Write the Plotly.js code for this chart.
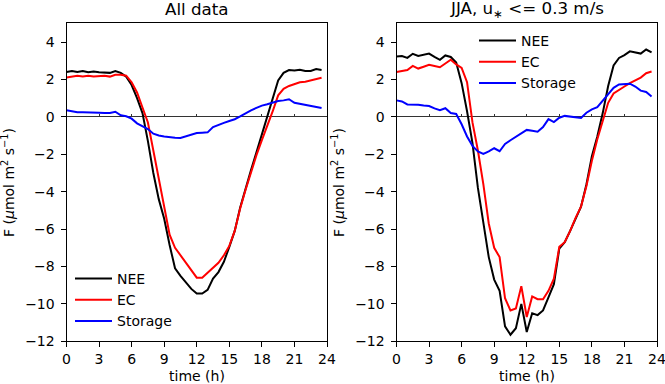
<!DOCTYPE html>
<html>
<head>
<meta charset="utf-8">
<script src="https://cdn.plot.ly/plotly-3.0.1.min.js"></script>
<style>
  html, body { margin: 0; padding: 0; background: #fff; }
  #chart { width: 665px; height: 384px; }
</style>
</head>
<body>
<div id="chart"></div>
<script>
// half-hourly time of day (h)
const hours = [0, 0.5, 1, 1.5, 2, 2.5, 3, 3.5, 4, 4.5, 5, 5.5, 6, 6.5, 7, 7.5,
    8, 8.5, 9, 9.5, 10, 10.5, 11, 11.5, 12, 12.5, 13, 13.5, 14, 14.5, 15, 15.5,
    16, 16.5, 17, 17.5, 18, 18.5, 19, 19.5, 20, 20.5, 21, 21.5, 22, 22.5, 23, 23.5];

// All data
const allNEE = [2.40, 2.45, 2.40, 2.45, 2.38, 2.42, 2.38, 2.38, 2.35, 2.45, 2.35, 2.15,
    1.70, 1.00, 0.20, -1.30, -3.00, -4.40, -5.45, -6.85, -8.10, -8.50, -8.85, -9.20,
    -9.45, -9.45, -9.25, -8.65, -8.30, -7.75, -6.95, -6.10, -4.85, -3.80, -2.85, -1.90,
    -0.95, 0.00, 0.95, 1.95, 2.35, 2.50, 2.48, 2.52, 2.45, 2.45, 2.55, 2.50];
const allEC = [2.10, 2.15, 2.20, 2.15, 2.20, 2.15, 2.18, 2.20, 2.15, 2.25, 2.25, 2.20,
    1.85, 1.30, 0.50, -0.30, -1.80, -3.25, -4.75, -6.30, -7.00, -7.40, -7.80, -8.20,
    -8.60, -8.60, -8.35, -8.10, -7.80, -7.40, -6.90, -6.10, -4.90, -3.90, -2.95, -2.05,
    -1.25, -0.50, 0.30, 1.15, 1.50, 1.65, 1.75, 1.85, 1.88, 1.95, 2.02, 2.09];
const allStorage = [0.35, 0.30, 0.25, 0.25, 0.25, 0.25, 0.22, 0.20, 0.20, 0.27, 0.08, 0.03,
    -0.10, -0.35, -0.50, -0.65, -0.90, -1.00, -1.05, -1.10, -1.12, -1.13, -1.05, -0.95,
    -0.87, -0.85, -0.83, -0.55, -0.42, -0.32, -0.22, -0.13, 0.02, 0.20, 0.35, 0.48,
    0.60, 0.67, 0.75, 0.85, 0.88, 0.94, 0.75, 0.70, 0.65, 0.60, 0.55, 0.47];

// JJA, u* <= 0.3 m/s
const jjaNEE = [3.23, 3.25, 3.15, 3.37, 3.25, 3.30, 3.38, 3.20, 3.05, 3.28, 3.20, 2.90,
    1.80, 0.30, -1.40, -3.80, -5.75, -7.50, -8.70, -9.30, -11.20, -11.65, -11.30, -10.00,
    -11.50, -10.50, -10.60, -10.35, -9.65, -8.95, -7.05, -6.70, -6.10, -5.40, -4.80, -3.60,
    -2.10, -1.05, 0.20, 1.65, 2.75, 3.15, 3.30, 3.50, 3.45, 3.38, 3.60, 3.45];
const jjaEC = [2.40, 2.45, 2.50, 2.72, 2.58, 2.68, 2.78, 2.72, 2.65, 2.85, 3.05, 2.80,
    2.62, 1.85, -0.30, -1.80, -3.60, -5.70, -7.00, -7.50, -9.70, -10.35, -10.25, -9.05,
    -10.70, -9.60, -9.75, -9.75, -9.30, -8.65, -6.95, -6.70, -6.10, -5.40, -4.80, -3.70,
    -2.35, -1.20, -0.20, 0.75, 1.25, 1.45, 1.62, 1.80, 1.97, 2.10, 2.33, 2.42];
const jjaStorage = [0.88, 0.82, 0.66, 0.66, 0.65, 0.61, 0.58, 0.45, 0.36, 0.46, 0.20, 0.15,
    -0.40, -1.05, -1.55, -1.85, -1.98, -1.85, -1.68, -1.84, -1.45, -1.25, -1.08, -0.90,
    -0.70, -0.75, -0.80, -0.55, -0.12, -0.28, -0.05, 0.05, 0.02, -0.02, -0.06, 0.22,
    0.40, 0.52, 0.85, 1.20, 1.55, 1.73, 1.77, 1.77, 1.62, 1.40, 1.33, 1.09];

const seriesNames = ['NEE', 'EC', 'Storage'];
const seriesColors = ['#000000', '#ff0000', '#0000ff'];
const panelTitles = ['All data', 'JJA, u<sub>∗</sub> &lt;= 0.3 m/s'];
const xTicks = [0, 3, 6, 9, 12, 15, 18, 21, 24];
const yTicks = [-12, -10, -8, -6, -4, -2, 0, 2, 4];

const FONT = 'DejaVu Sans, sans-serif';
const W = 665, H = 384;

// axes boxes in pixels
const boxLeft = [66.5, 396.5];
const boxWidth = 260.5;
const boxTop = 23.3, boxBottom = 341.3;

function px2x(p) { return p / W; }
function px2y(p) { return 1 - p / H; }

const panels = [
    [allNEE, allEC, allStorage],
    [jjaNEE, jjaEC, jjaStorage]
];

const traces = [];
panels.forEach((panel, i) => {
    const ax = i === 0 ? '' : '2';
    panel.forEach((vals, k) => {
        traces.push({
            x: hours,
            y: vals,
            type: 'scatter',
            mode: 'lines',
            name: seriesNames[k],
            line: { color: seriesColors[k], width: 2 },
            xaxis: 'x' + ax,
            yaxis: 'y' + ax,
            legend: i === 0 ? 'legend' : 'legend2'
        });
    });
});

function xAxis(i) {
    return {
        domain: [px2x(boxLeft[i]), px2x(boxLeft[i] + boxWidth)],
        range: [0, 24],
        tickvals: xTicks,
        ticks: 'outside',
        ticklen: 5,
        tickwidth: 1,
        tickcolor: '#000',
        showline: true,
        linecolor: '#000',
        linewidth: 1,
        mirror: true,
        showgrid: false,
        zeroline: false,
        ticklabeloverflow: 'allow',
        tickfont: { family: FONT, size: 14, color: '#000' },
        anchor: i === 0 ? 'y' : 'y2',
        fixedrange: true
    };
}

function yAxis(i) {
    return {
        domain: [px2y(boxBottom), px2y(boxTop)],
        range: [-12, 5],
        tickvals: yTicks,
        ticks: 'outside',
        ticklen: 5,
        tickwidth: 1,
        tickcolor: '#000',
        showline: true,
        linecolor: '#000',
        linewidth: 1,
        mirror: true,
        showgrid: false,
        zeroline: true,
        zerolinecolor: '#333',
        zerolinewidth: 1,
        ticklabelstandoff: 3,
        tickfont: { family: FONT, size: 14, color: '#000' },
        anchor: i === 0 ? 'x' : 'x2',
        fixedrange: true
    };
}

// small upward ticks sitting on the zero line
function zeroTickAxis(i) {
    return {
        domain: [px2x(boxLeft[i]), px2x(boxLeft[i] + boxWidth)],
        range: [0, 24],
        tickvals: xTicks,
        ticks: 'inside',
        ticklen: 3,
        tickwidth: 1,
        tickcolor: '#333',
        showticklabels: false,
        showline: false,
        showgrid: false,
        zeroline: false,
        overlaying: i === 0 ? 'x' : 'x2',
        anchor: 'free',
        position: px2y(boxTop + 5 * (boxBottom - boxTop) / 17),
        fixedrange: true
    };
}

const annotations = [];
[0, 1].forEach(i => {
    const cx = boxLeft[i] + boxWidth / 2;
    annotations.push({
        text: panelTitles[i], xref: 'paper', yref: 'paper',
        x: px2x(cx), y: px2y(9), xanchor: 'center', yanchor: 'middle',
        showarrow: false, font: { family: FONT, size: 16.7, color: '#000' }
    });
    annotations.push({
        text: 'time (h)', xref: 'paper', yref: 'paper',
        x: px2x(cx), y: px2y(376), xanchor: 'center', yanchor: 'middle',
        showarrow: false, font: { family: FONT, size: 14, color: '#000' }
    });
    annotations.push({
        text: 'F (<i>μ</i>mol m<sup>2</sup> s<sup>−1</sup>)', xref: 'paper', yref: 'paper',
        x: px2x(i === 0 ? 8 : 338), y: px2y(183), xanchor: 'center', yanchor: 'middle',
        textangle: -90, showarrow: false, font: { family: FONT, size: 14, color: '#000' }
    });
});

const legendBase = {
    bgcolor: 'rgba(0,0,0,0)',
    borderwidth: 0,
    font: { family: FONT, size: 14, color: '#000' },
    xanchor: 'left',
    yanchor: 'top',
    itemwidth: 37,
    tracegroupgap: 0
};

const layout = {
    width: W,
    height: H,
    margin: { l: 0, r: 0, t: 0, b: 0 },
    paper_bgcolor: '#fff',
    plot_bgcolor: '#fff',
    showlegend: true,
    xaxis: xAxis(0),
    yaxis: yAxis(0),
    xaxis2: xAxis(1),
    yaxis2: yAxis(1),
    xaxis3: zeroTickAxis(0),
    xaxis4: zeroTickAxis(1),
    legend: Object.assign({}, legendBase, { x: px2x(70), y: px2y(263) }),
    legend2: Object.assign({}, legendBase, { x: px2x(474), y: px2y(25) }),
    annotations: annotations
};

// empty traces so the zero-line tick axes get drawn
traces.push({ x: [], y: [], type: 'scatter', xaxis: 'x3', yaxis: 'y', showlegend: false, hoverinfo: 'skip' });
traces.push({ x: [], y: [], type: 'scatter', xaxis: 'x4', yaxis: 'y2', showlegend: false, hoverinfo: 'skip' });

Plotly.newPlot('chart', traces, layout, { displayModeBar: false, staticPlot: true });
</script>
</body>
</html>
